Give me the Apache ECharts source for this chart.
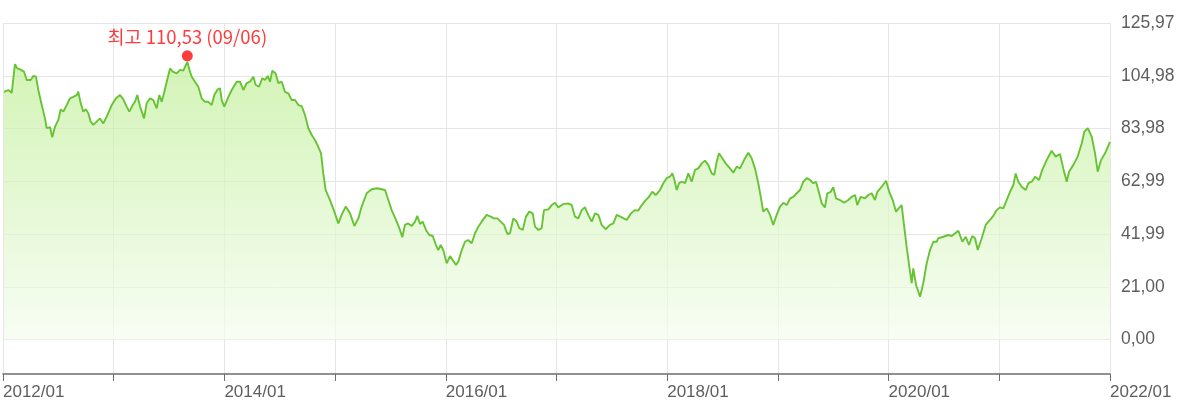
<!DOCTYPE html>
<html>
<head>
<meta charset="utf-8">
<script src="https://cdn.jsdelivr.net/npm/echarts@6/dist/echarts.min.js"></script>
<style>
html,body{margin:0;padding:0;background:#fff;}
#chart{width:1199px;height:418px;}
</style>
</head>
<body>
<div id="chart"></div>
<script>
// ---- data: [decimal year, value] ----
const d2012 = [[2012.009,98.6],[2012.048,99.3],[2012.079,98.2],[2012.108,109.6],[2012.129,107.9],[2012.154,107.5],[2012.190,106.6],[2012.214,103.3],[2012.250,103.3],[2012.274,104.9],
[2012.298,104.6],[2012.319,99.3],[2012.350,93.3],[2012.379,88.0],[2012.395,84.1],[2012.425,84.5],[2012.445,80.5],[2012.470,84.7],[2012.500,87.4],[2012.521,91.6],
[2012.545,90.7],[2012.575,93.3],[2012.605,96.0],[2012.635,96.6],[2012.666,97.3],[2012.680,98.6],[2012.702,94.0],[2012.725,90.7],[2012.750,91.6],[2012.771,90.0],
[2012.792,86.7],[2012.816,85.4],[2012.846,86.7],[2012.876,88.0],[2012.906,86.0],[2012.937,88.7],[2012.982,93.3]];
const d2013 = [[2013.021,96.0],[2013.057,97.3],[2013.087,95.6],[2013.117,92.7],[2013.141,90.7],[2013.172,93.3],[2013.192,94.6],[2013.213,97.3],[2013.238,92.7],[2013.274,88.0],
[2013.298,94.0],[2013.328,96.0],[2013.358,95.3],[2013.388,92.0],[2013.412,97.3],[2013.434,94.6],[2013.454,98.0],[2013.479,102.6],[2013.509,107.9],[2013.533,106.6],
[2013.569,105.9],[2013.599,107.3],[2013.629,107.0],[2013.665,110.53],[2013.689,106.6],[2013.705,104.6],[2013.734,102.6],[2013.764,100.6],[2013.795,96.0],[2013.825,94.6],
[2013.855,94.6],[2013.885,93.3],[2013.909,97.3],[2013.940,99.6],[2013.960,100.0],[2013.976,95.3],[2013.999,92.7]];
const d2014 = [[2014.030,96.0],[2014.066,99.3],[2014.111,102.6],[2014.141,102.6],[2014.171,99.3],[2014.201,102.0],[2014.231,102.6],[2014.261,104.6],[2014.283,101.3],[2014.313,100.6],
[2014.342,104.0],[2014.367,103.3],[2014.391,104.9],[2014.412,102.6],[2014.433,107.0],[2014.463,105.9],[2014.487,102.0],[2014.518,102.6],[2014.547,98.6],[2014.577,98.0],
[2014.608,95.3],[2014.638,95.3],[2014.668,93.3],[2014.698,92.9],[2014.728,89.4],[2014.758,84.1],[2014.789,81.4],[2014.818,79.4],[2014.848,76.7],[2014.873,74.1],
[2014.893,66.1],[2014.915,59.5],[2014.954,55.5],[2014.993,50.9]];
const d2015 = [[2015.029,46.2],[2015.065,50.2],[2015.096,52.9],[2015.135,50.2],[2015.174,45.2],[2015.210,48.2],[2015.240,52.9],[2015.285,58.2],[2015.331,59.8],[2015.376,60.2],
[2015.421,59.8],[2015.451,59.5],[2015.481,55.5],[2015.511,51.5],[2015.550,47.6],[2015.586,43.6],[2015.607,40.7],[2015.631,45.6],[2015.661,46.2],[2015.692,45.2],
[2015.722,46.9],[2015.743,49.2],[2015.767,46.0],[2015.791,46.9],[2015.821,43.6],[2015.851,41.6],[2015.882,41.2],[2015.911,37.6],[2015.932,35.6],[2015.954,37.6],
[2015.977,35.6]];
const d2016 = [[2016.008,30.3],[2016.038,33.2],[2016.062,31.6],[2016.092,29.7],[2016.113,31.0],[2016.144,35.6],[2016.173,38.9],[2016.203,39.6],[2016.234,38.3],[2016.264,42.3],
[2016.294,44.9],[2016.324,46.9],[2016.369,49.6],[2016.406,48.9],[2016.435,48.2],[2016.465,48.2],[2016.496,46.9],[2016.526,45.6],[2016.556,42.0],[2016.580,42.3],
[2016.610,48.2],[2016.640,46.9],[2016.664,44.3],[2016.695,43.6],[2016.724,48.9],[2016.754,50.9],[2016.785,50.2],[2016.806,44.9],[2016.836,43.6],[2016.866,44.3],
[2016.887,51.5],[2016.926,51.8],[2016.957,53.5],[2016.986,54.4]];
const d2017 = [[2017.016,52.6],[2017.061,53.9],[2017.107,54.2],[2017.137,53.5],[2017.167,48.9],[2017.197,48.2],[2017.228,51.5],[2017.257,52.6],[2017.287,49.6],[2017.318,46.9],
[2017.348,50.2],[2017.378,49.6],[2017.408,45.6],[2017.444,43.9],[2017.483,45.6],[2017.513,46.2],[2017.544,49.6],[2017.589,48.6],[2017.634,47.6],[2017.673,50.2],
[2017.709,51.5],[2017.739,51.3],[2017.770,53.5],[2017.806,55.5],[2017.836,56.8],[2017.865,58.8],[2017.896,57.5],[2017.935,59.5],[2017.965,62.2],[2017.995,64.2]];
const d2018 = [[2018.025,64.8],[2018.046,66.1],[2018.064,63.8],[2018.086,59.5],[2018.107,62.2],[2018.136,62.8],[2018.161,62.2],[2018.191,66.1],[2018.221,62.8],[2018.251,67.5],
[2018.281,68.1],[2018.312,70.1],[2018.341,71.2],[2018.371,69.5],[2018.402,66.1],[2018.425,65.5],[2018.447,70.8],[2018.468,74.1],[2018.498,72.1],[2018.528,70.1],
[2018.567,68.1],[2018.597,66.4],[2018.628,68.8],[2018.658,68.1],[2018.694,71.4],[2018.733,74.3],[2018.763,72.1],[2018.793,68.1],[2018.823,62.2],[2018.845,56.8],
[2018.868,50.9],[2018.899,52.2],[2018.929,49.6],[2018.958,45.6],[2018.989,49.6]];
const d2019 = [[2019.019,52.9],[2019.049,54.4],[2019.080,53.5],[2019.110,56.2],[2019.139,56.8],[2019.170,58.2],[2019.200,59.5],[2019.229,62.8],[2019.260,64.2],[2019.290,63.5],
[2019.320,62.2],[2019.344,62.8],[2019.365,59.5],[2019.396,54.2],[2019.425,52.6],[2019.446,58.2],[2019.477,58.8],[2019.500,60.6],[2019.525,56.2],[2019.561,55.5],
[2019.597,54.4],[2019.636,55.5],[2019.667,56.8],[2019.697,57.5],[2019.717,53.5],[2019.748,56.8],[2019.787,56.2],[2019.817,57.5],[2019.847,58.2],[2019.877,55.5],
[2019.898,58.8],[2019.938,60.8],[2019.977,63.2]];
const d2020 = [[2020.006,58.8],[2020.037,55.5],[2020.067,50.9],[2020.091,52.2],[2020.118,53.5],[2020.139,45.6],[2020.163,36.9],[2020.187,29.0],[2020.209,22.4],[2020.223,28.3],
[2020.248,21.7],[2020.284,17.0],[2020.313,22.4],[2020.344,30.3],[2020.374,35.6],[2020.404,38.9],[2020.434,38.9],[2020.449,40.3],[2020.494,40.9],[2020.539,41.6],
[2020.570,41.2],[2020.630,43.3],[2020.666,38.9],[2020.697,40.9],[2020.726,37.6],[2020.756,41.2],[2020.781,40.3],[2020.805,35.6],[2020.841,40.3],[2020.877,45.6],
[2020.916,47.6],[2020.946,49.2],[2020.977,51.5]];
const d2021 = [[2021.006,52.6],[2021.036,52.2],[2021.067,55.5],[2021.097,58.8],[2021.127,61.5],[2021.148,66.1],[2021.172,62.8],[2021.202,60.8],[2021.239,59.5],[2021.262,62.2],
[2021.293,62.8],[2021.323,64.8],[2021.359,63.5],[2021.388,67.5],[2021.428,71.4],[2021.473,75.1],[2021.509,72.8],[2021.548,73.8],[2021.578,68.1],[2021.609,62.8],
[2021.630,66.8],[2021.669,69.5],[2021.708,72.8],[2021.745,78.1],[2021.768,82.7],[2021.799,84.1],[2021.835,80.7],[2021.865,74.1],[2021.889,66.8],[2021.919,71.4],
[2021.955,74.1],[2022.000,78.7]];

const peakPoint = [2013.665, 110.53];
const peakLabel = '최고 110,53 (09/06)';
const yTickLabels = ['0,00','21,00','41,99','62,99','83,98','104,98','125,97'];
const yMax = 125.97;
const yStep = 20.995;
const xStart = 2012, xEnd = 2022;

const seriesData = [].concat(d2012,d2013,d2014,d2015,d2016,d2017,d2018,d2019,d2020,d2021);

const chart = echarts.init(document.getElementById('chart'), null, {renderer:'canvas'});
const FONT = '"Liberation Sans", Arial, sans-serif';
chart.setOption({
  animation:false,
  grid:[
    {left:3, right:89, top:23, bottom:44, containLabel:false},
    {left:3, right:89, top:23, bottom:78.5, containLabel:false}
  ],
  xAxis:[
    {type:'value', gridIndex:0, min:xStart, max:xEnd, interval:1,
     axisLine:{show:true, lineStyle:{color:'#6e6e6e', width:1.5}},
     axisTick:{show:true, length:7, lineStyle:{color:'#6e6e6e', width:1}},
     axisLabel:{show:true, align:'left', margin:10, color:'#5e5e5e', fontSize:17, fontFamily:FONT,
       showMinLabel:true, showMaxLabel:true,
       formatter:function(v){ return (Math.round(v)%2===0) ? Math.round(v)+'/01' : ''; }},
     splitLine:{show:true, lineStyle:{color:'#e6e6e6', width:1}}},
    {type:'value', gridIndex:1, min:xStart, max:xEnd, show:false}
  ],
  yAxis:[
    {type:'value', gridIndex:0, min:0, max:1, show:false},
    {type:'value', gridIndex:1, position:'right', min:0, max:yMax, interval:yStep,
     axisLine:{show:false}, axisTick:{show:false},
     axisLabel:{show:true, margin:11, color:'#5e5e5e', fontSize:17.5, fontFamily:FONT,
       formatter:function(v){ const i=Math.round(v/yStep); return yTickLabels[i]||''; }},
     splitLine:{show:true, lineStyle:{color:'#e6e6e6', width:1}}}
  ],
  series:[
    {type:'line', xAxisIndex:1, yAxisIndex:1, data:seriesData, showSymbol:false, symbol:'none',
     lineStyle:{color:'#66c433', width:1.9},
     areaStyle:{origin:'start', color:new echarts.graphic.LinearGradient(0,23,0,340,[
        {offset:0,color:'#b8ec8a'},{offset:1,color:'#f4fcee'}], true)},
     z:2},
    {type:'scatter', xAxisIndex:1, yAxisIndex:1, data:[peakPoint], symbolSize:11,
     symbolOffset:[0,-6], itemStyle:{color:'#ff0a0a'}, z:5,
     label:{show:true, position:'top', distance:4, formatter:peakLabel, color:'#ff0a0a', fontSize:18.5,
       fontFamily:'"Noto Sans CJK KR", "Liberation Sans", sans-serif'}}
  ]
});
</script>
</body>
</html>
